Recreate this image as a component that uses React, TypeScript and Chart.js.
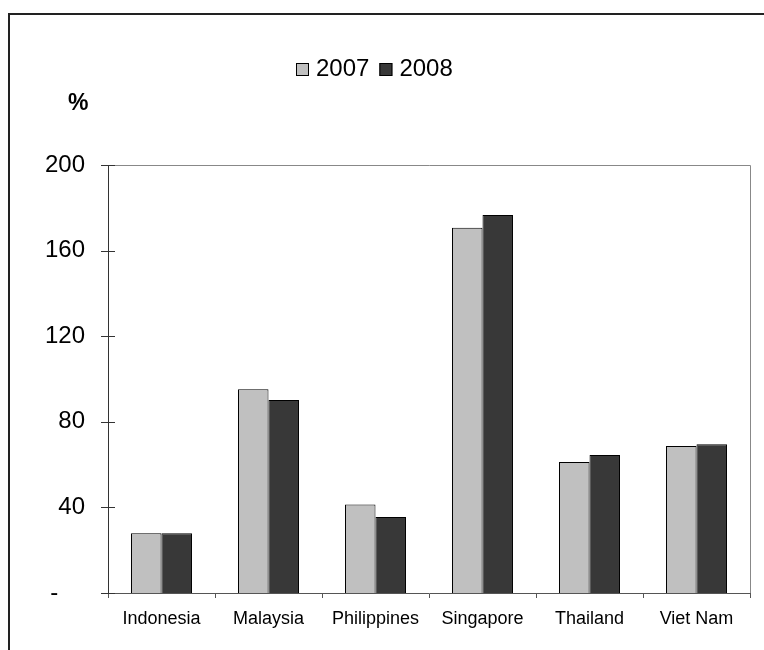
import React, { useEffect, useRef } from 'react';
import { Chart, registerables } from 'chart.js';

Chart.register(...registerables);

const categories = ['Indonesia', 'Malaysia', 'Philippines', 'Singapore', 'Thailand', 'Viet Nam'];
const seriesLabels = ['2007', '2008'];
const series2007 = [27.9, 95.2, 41.3, 170.7, 61.2, 68.7];
const series2008 = [27.9, 90.2, 35.5, 176.6, 64.5, 69.5];
const yTickValues = [0, 40, 80, 120, 160, 200];
const unitLabel = '%';

const FONT = 'Arial, "Liberation Sans", sans-serif';

const decorPlugin = {
  id: 'decor',
  beforeDraw(chart: any) {
    const { ctx } = chart;
    ctx.save();
    ctx.fillStyle = '#ffffff';
    ctx.fillRect(0, 0, chart.width, chart.height);
    ctx.strokeStyle = '#222222';
    ctx.lineWidth = 2;
    ctx.beginPath();
    ctx.moveTo(9, chart.height);
    ctx.lineTo(9, 14);
    ctx.lineTo(chart.width, 14);
    ctx.stroke();
    ctx.restore();
  },
  afterDraw(chart: any) {
    const { ctx, chartArea: a, scales } = chart;
    ctx.save();
    // plot area top/right border
    ctx.strokeStyle = '#888888';
    ctx.lineWidth = 1;
    ctx.beginPath();
    ctx.moveTo(a.left, Math.round(a.top) + 0.5);
    ctx.lineTo(Math.round(a.right) + 0.5, Math.round(a.top) + 0.5);
    ctx.lineTo(Math.round(a.right) + 0.5, a.bottom);
    ctx.stroke();
    // crossing y ticks
    const ys = scales.y;
    ctx.strokeStyle = '#333333';
    ys.ticks.forEach((t: any) => {
      const py = Math.round(ys.getPixelForValue(t.value)) + 0.5;
      ctx.beginPath();
      ctx.moveTo(a.left - 7, py);
      ctx.lineTo(a.left + 7, py);
      ctx.stroke();
    });
    // unit label
    ctx.fillStyle = '#000000';
    ctx.font = `bold 23px ${FONT}`;
    ctx.textAlign = 'left';
    ctx.textBaseline = 'middle';
    ctx.fillText(unitLabel, 68, 104);
    // legend
    ctx.font = `24px ${FONT}`;
    ctx.textBaseline = 'alphabetic';
    ctx.textAlign = 'left';
    const box = 13;
    const gapBT = 7;
    const gapItems = 10;
    const items = chart.data.datasets.map((ds: any) => ({
      label: ds.label,
      color: ds.backgroundColor,
      w: ctx.measureText(ds.label).width,
    }));
    const total =
      items.reduce((s: number, it: any) => s + box + gapBT + it.w, 0) + gapItems * (items.length - 1);
    let x = Math.round(374 - total / 2);
    const baseY = 76;
    items.forEach((it: any) => {
      ctx.fillStyle = it.color;
      ctx.fillRect(x, baseY - box, box, box);
      ctx.strokeStyle = '#000000';
      ctx.lineWidth = 1;
      ctx.strokeRect(x + 0.5, baseY - box + 0.5, box - 1, box - 1);
      ctx.fillStyle = '#000000';
      ctx.fillText(it.label, x + box + gapBT, baseY);
      x += box + gapBT + it.w + gapItems;
    });
    ctx.restore();
  },
};

export default function App() {
  const ref = useRef<HTMLCanvasElement>(null);
  useEffect(() => {
    const chart = new Chart(ref.current as HTMLCanvasElement, {
      type: 'bar',
      data: {
        labels: categories,
        datasets: [
          {
            label: seriesLabels[0],
            data: series2007,
            backgroundColor: '#c0c0c0',
            borderColor: '#000000',
            borderWidth: 1,
            categoryPercentage: 0.57,
            barPercentage: 1,
          },
          {
            label: seriesLabels[1],
            data: series2008,
            backgroundColor: '#383838',
            borderColor: '#000000',
            borderWidth: 1,
            categoryPercentage: 0.57,
            barPercentage: 1,
          },
        ],
      },
      options: {
        responsive: false,
        devicePixelRatio: 1,
        animation: false,
        events: [],
        layout: { padding: { top: 165, left: 8, right: 14, bottom: 0 } },
        plugins: {
          legend: { display: false },
          tooltip: { enabled: false },
          title: { display: false },
        },
        scales: {
          x: {
            grid: {
              display: true,
              drawOnChartArea: false,
              drawTicks: true,
              tickLength: 5,
              color: '#555555',
              offset: true,
            },
            border: { display: true, color: '#555555' },
            ticks: {
              font: { size: 18, family: FONT },
              color: '#000000',
              padding: 10,
              maxRotation: 0,
              autoSkip: false,
            },
            afterFit: (s: any) => {
              s.height = 57;
            },
          },
          y: {
            min: 0,
            max: 200,
            grid: { display: false, drawTicks: false },
            border: { display: true, color: '#333333' },
            ticks: {
              font: { size: 24, family: FONT },
              color: '#000000',
              padding: 23,
              callback: (v: any) => (v === 0 ? '-    ' : String(v)),
            },
            afterBuildTicks: (s: any) => {
              s.ticks = yTickValues.map((v) => ({ value: v }));
            },
            afterFit: (s: any) => {
              s.width = 100;
            },
          },
        },
      },
      plugins: [decorPlugin],
    } as any);
    return () => chart.destroy();
  }, []);
  return (
    <div style={{ position: 'absolute', left: 0, top: 0, width: 764, height: 650 }}>
      <canvas ref={ref} width={764} height={650} style={{ display: 'block', width: 764, height: 650 }} />
    </div>
  );
}
